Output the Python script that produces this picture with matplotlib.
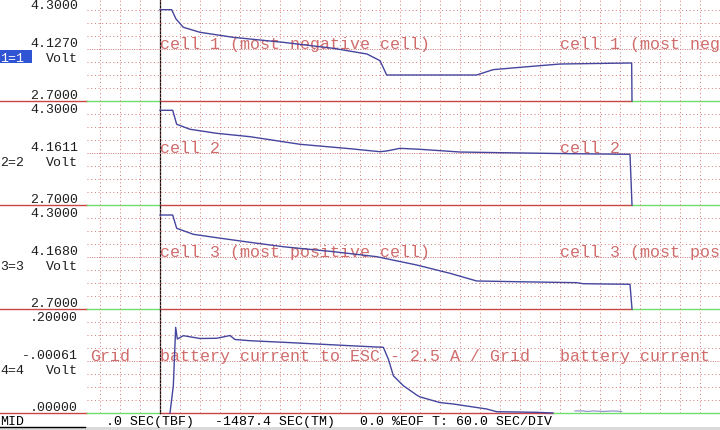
import matplotlib
matplotlib.use("Agg")
import matplotlib.pyplot as plt
from matplotlib.patches import Rectangle

# ---------------- data (time in s from cursor, 60 s / div) ----------------
t1 = [0, 35, 48, 70, 120, 219, 369, 519, 621, 660, 680, 780, 950, 999, 1080, 1200, 1415, 1416]
v1 = [4.105, 4.105, 3.962, 3.834, 3.757, 3.680, 3.603, 3.511, 3.423, 3.320, 3.100, 3.100,
      3.100, 3.182, 3.218, 3.269, 3.285, 2.70]

t2 = [0, 38, 50, 90, 170, 270, 420, 570, 660, 680, 720, 780, 900, 1020, 1239, 1410, 1416]
v2 = [4.157, 4.157, 3.942, 3.865, 3.803, 3.751, 3.634, 3.566, 3.520, 3.531, 3.572, 3.557,
      3.515, 3.505, 3.489, 3.480, 2.70]

t3 = [0, 38, 50, 100, 170, 270, 370, 520, 650, 770, 870, 950, 1070, 1250, 1269, 1410, 1416]
v3 = [4.146, 4.146, 3.942, 3.849, 3.797, 3.726, 3.658, 3.582, 3.505, 3.377, 3.249, 3.131,
      3.120, 3.105, 3.089, 3.080, 2.70]

t4 = [30, 40, 47, 52, 70, 120, 170, 210, 225, 270, 370, 470, 570, 670, 685, 700, 730,
      770, 780, 840, 880, 980, 1010, 1130, 1179]
v4 = [0.0, 0.0525, 0.1648, 0.1423, 0.1487, 0.1433, 0.1437, 0.149, 0.1413, 0.139, 0.136,
      0.1327, 0.1294, 0.1263, 0.1038, 0.0717, 0.0525, 0.0346, 0.031, 0.020, 0.0173,
      0.0077, 0.0025, 0.0013, 0.0]
t4_tail = [1245, 1270, 1280, 1300, 1330, 1360, 1385]
v4_tail = [0.004, 0.004, 0.003, 0.004, 0.003, 0.004, 0.003]

times = [t1, t2, t3, t4]
values = [v1, v2, v3, v4]
y_top = [4.3, 4.3, 4.3, 0.2]
y_bottom = [2.7, 2.7, 2.7, 0.0]
top_labels = ["4.3000", "4.3000", "4.3000", ".20000"]
mid_labels = ["4.1270", "4.1611", "4.1680", "-.00061"]
bottom_labels = ["2.7000", "2.7000", "2.7000", ".00000"]
chan_labels = ["1=1", "2=2", "3=3", "4=4"]
unit_label = "Volt"
trace_labels = ["cell 1 (most negative cell)", "cell 2", "cell 3 (most positive cell)",
                "battery current to ESC - 2.5 A / Grid"]
label_tails = ["", "", "", "Grid"]
status_texts = ["MID", ".0 SEC(TBF)", "-1487.4 SEC(TM)", "0.0 %EOF T: 60.0 SEC/DIV"]

# ---------------- layout ----------------
W, H = 720, 431
X0 = 87            # left edge of plot area (px)
T0_PX = 160        # px of t = 0
SEC_PER_PX = 3.0
PTOP0 = -2
PH = 104

trace_c = "#45459e"
grid_c = "#d27474"
sep_red = "#c84646"
sep_green = "#6ee06e"
lab_red = "#d06c6c"
txt_c = "#1e1e1e"
MONO = "Liberation Mono"

fig = plt.figure(figsize=(W / 100, H / 100), dpi=100)
fig.patch.set_facecolor("white")
bg = fig.add_axes([0, 0, 1, 1], zorder=0)
bg.set_xlim(0, W)
bg.set_ylim(H, 0)
bg.axis("off")

end_px = [632, 632, 632, 553]

for i in range(4):
    top = PTOP0 + PH * i
    ax = fig.add_axes([X0 / W, 1 - (top + PH) / H, (W - X0) / W, PH / H], zorder=1)
    ax.set_xlim((X0 - T0_PX) * SEC_PER_PX, (W - T0_PX) * SEC_PER_PX)
    ax.set_ylim(y_bottom[i], y_top[i])
    ax.patch.set_alpha(0)
    ax.axis("off")
    for k in range(-3, 28):
        ax.axvline(60 * k, color=grid_c, lw=0.7, ls=(0, (1, 2.8)), zorder=1)
    step = (y_top[i] - y_bottom[i]) / 8
    for j in range(1, 8):
        yv = y_bottom[i] + j * step
        if j == 4:
            ax.axhline(yv, color=grid_c, lw=0.7, ls=(0, (1, 1.4)), zorder=1)
        else:
            ax.axhline(yv, color=grid_c, lw=0.7, ls=(0, (1, 2.8)), zorder=1)
    ax.plot(times[i], values[i], color=trace_c, lw=1.0, zorder=3, clip_on=False)
    if i == 3:
        ax.plot(t4_tail, v4_tail, color="#8a8ac8", lw=0.8, zorder=3)

    # separator under the panel
    ysep = top + PH + 0.4
    bg.plot([0, X0], [ysep, ysep], color=sep_red, lw=1.0)
    bg.plot([X0, 159.5], [ysep, ysep], color=sep_green, lw=1.0)
    bg.plot([159.5, end_px[i]], [ysep, ysep], color=sep_red, lw=1.0)
    bg.plot([end_px[i], W], [ysep, ysep], color=sep_green, lw=1.0)

    # left labels
    bg.text(78, top + 10.8, top_labels[i], ha="right", va="baseline", family=MONO,
            fontsize=9.5, color=txt_c)
    bg.text(78, top + 49.4, mid_labels[i], ha="right", va="baseline", family=MONO,
            fontsize=9.5, color=txt_c)
    bg.text(78, top + 63.8, unit_label, ha="right", va="baseline", family=MONO,
            fontsize=9.5, color=txt_c)
    bg.text(78, top + 101.3, bottom_labels[i], ha="right", va="baseline", family=MONO,
            fontsize=9.5, color=txt_c)
    if i == 0:
        bg.add_patch(Rectangle((0, top + 53), 31.5, 12.5, color="#2f55d4", lw=0))
        bg.text(0.5, top + 63.8, chan_labels[i], ha="left", va="baseline", family=MONO,
                fontsize=9.5, color="white")
    else:
        bg.text(0.5, top + 63.8, chan_labels[i], ha="left", va="baseline", family=MONO,
                fontsize=9.5, color=txt_c)

    # trace labels on the center line
    yl = top + 51.5
    bg.text(160.5, yl, trace_labels[i], ha="left", va="baseline", family=MONO,
            fontsize=12, color=lab_red, zorder=2)
    bg.text(560.5, yl, trace_labels[i][:16].rstrip(), ha="left", va="baseline",
            family=MONO, fontsize=12, color=lab_red, zorder=2)
    if label_tails[i]:
        bg.text(90.5, yl, label_tails[i], ha="left", va="baseline", family=MONO,
                fontsize=12, color=lab_red, zorder=2)

# cursor
bg.plot([159.5, 159.5], [0, 414], color="#101010", lw=0.9, zorder=3)

# status bar
bg.add_patch(Rectangle((0, 428), W, 3, color="#dadada", lw=0))
bg.plot([0, 85], [427.8, 427.8], color="black", lw=1.0)
for x, s in zip([0, 106, 215, 360], status_texts):
    bg.text(x, 425.5, s, ha="left", va="baseline", family=MONO, fontsize=9.5, color="black")

fig.savefig("out.png", dpi=100)
